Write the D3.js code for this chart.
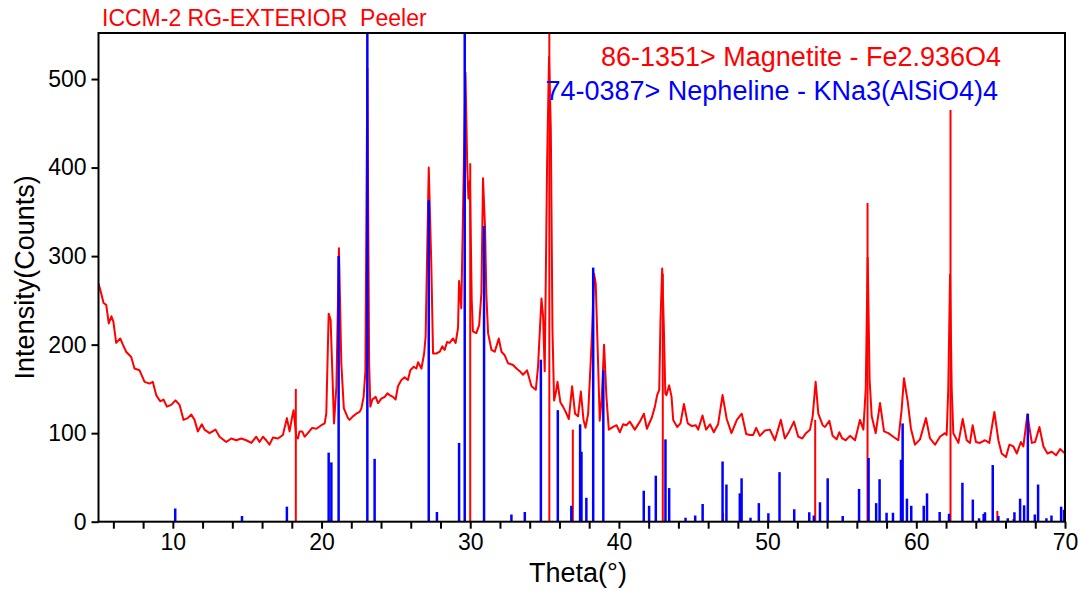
<!DOCTYPE html>
<html>
<head>
<meta charset="utf-8">
<script src="https://cdn.jsdelivr.net/npm/d3@7"></script>
<style>
body { margin: 0; background: #fff; }
svg { font-family: "Liberation Sans", Arial, sans-serif; }
</style>
</head>
<body>
<div id="canvas"></div>
<script>
// measured pattern (2-theta, counts)
var theta = [5.0,5.18,5.34,5.52,5.69,5.87,6.0,6.19,6.46,6.64,6.86,7.2,7.42,7.76,8.1,8.43,8.65,8.88,9.15,9.37,9.6,9.89,10.18,10.45,10.72,11.0,11.24,11.46,11.68,11.95,12.13,12.47,12.87,13.14,13.59,13.93,14.27,14.6,14.94,15.28,15.61,15.83,16.06,16.28,16.5,16.73,17.07,17.4,17.67,17.85,18.03,18.12,18.3,18.41,18.52,18.7,18.86,19.08,19.37,19.65,19.99,20.21,20.32,20.48,20.61,20.84,21.0,21.17,21.33,21.5,21.78,21.89,22.11,22.34,22.56,22.68,22.83,22.95,23.08,23.2,23.28,23.42,23.64,23.8,24.02,24.25,24.43,24.58,24.8,24.98,25.14,25.37,25.59,25.81,25.97,26.2,26.38,26.49,26.72,26.9,27.0,27.21,27.38,27.5,27.72,27.95,28.12,28.28,28.44,28.62,28.84,29.02,29.18,29.25,29.4,29.68,29.8,29.88,29.98,30.1,30.18,30.41,30.6,30.75,30.86,31.0,31.08,31.2,31.43,31.65,31.92,32.1,32.32,32.54,32.88,33.11,33.33,33.55,33.82,34.12,34.41,34.56,34.79,34.9,35.01,35.17,35.3,35.42,35.53,35.64,35.75,35.87,36.06,36.24,36.42,36.63,36.85,37.05,37.25,37.44,37.62,37.75,37.93,38.1,38.2,38.33,38.44,38.58,38.71,38.85,39.0,39.16,39.32,39.61,39.84,40.06,40.28,40.5,40.73,41.07,41.41,41.68,41.88,42.22,42.42,42.57,42.71,42.8,42.91,43.02,43.12,43.2,43.38,43.54,43.65,43.92,44.14,44.37,44.63,44.9,45.17,45.33,45.62,45.86,46.13,46.38,46.67,46.97,47.25,47.57,47.93,48.26,48.56,48.81,49.03,49.23,49.48,49.82,50.15,50.49,50.89,51.16,51.45,51.77,52.06,52.33,52.58,52.85,53.03,53.23,53.41,53.7,53.86,54.15,54.37,54.64,54.82,55.02,55.25,55.54,55.88,56.21,56.44,56.6,56.73,56.86,57.0,57.27,57.56,57.83,58.12,58.45,58.79,59.01,59.17,59.42,59.64,59.91,60.25,60.65,60.92,61.26,61.59,61.93,62.04,62.15,62.27,62.38,62.49,62.83,63.12,63.39,63.61,63.79,64.01,64.28,64.62,64.91,65.25,65.52,65.74,66.03,66.26,66.53,66.76,67.03,67.2,67.47,67.77,67.99,68.28,68.55,68.82,69.11,69.4,69.67,70.0];
var counts = [269,258,247,245,224,232,226,202,207,200,192,186,173,171,158,156,158,143,136,138,130,132,137,132,115,117,121,115,102,110,104,100,104,96,90,94,92,94,92,89,96,90,96,92,87,95,94,98,117,102,119,126,96,94,102,102,96,100,106,105,109,111,122,235,228,111,153,309,179,128,117,115,119,122,124,128,141,170,512,180,130,138,141,134,139,141,145,143,141,138,153,160,163,160,171,175,173,180,173,190,209,400,292,190,190,192,198,194,203,202,207,202,219,272,241,507,400,365,385,250,215,213,222,258,388,330,258,213,194,192,207,192,188,179,177,173,170,166,171,153,149,175,252,232,170,405,525,443,217,137,145,158,135,130,124,116,153,122,119,147,115,106,122,180,217,280,269,190,114,141,200,141,104,107,109,101,110,109,113,104,113,122,105,118,130,143,149,230,286,220,145,143,154,141,115,107,111,133,111,108,109,104,120,104,110,101,110,143,116,100,115,122,99,98,98,106,97,103,104,92,115,94,102,113,96,94,100,104,119,158,122,109,107,114,97,93,101,94,92,97,92,115,104,150,298,160,119,100,134,102,100,96,92,126,162,136,105,87,93,117,94,87,96,100,98,150,279,150,100,89,116,92,89,109,90,89,92,89,124,92,77,73,87,85,77,90,85,121,89,90,107,85,77,79,75,82,77];

// 86-1351 Magnetite reference lines
var magPos = [18.27,30.0,35.32,36.9,42.95,47.0,53.2,56.72,62.3,65.45,66.53];
var magInt = [150,405,600,104,280,10,115,360,465,12,3];

// 74-0387 Nepheline reference lines
var nepPos = [10.16,14.65,17.67,20.48,20.66,21.15,23.08,23.57,27.21,27.76,29.25,29.63,30.93,32.77,33.67,34.75,35.89,36.8,37.39,37.48,37.81,38.27,38.95,41.67,42.03,42.48,43.13,43.38,44.48,45.13,45.63,46.97,47.23,48.13,48.25,48.85,49.41,50.05,50.8,51.79,52.8,53.11,53.52,54.04,55.05,56.15,56.79,57.3,57.53,58.0,58.43,58.97,59.08,59.37,59.66,60.5,60.72,61.57,62.2,63.1,63.8,64.22,64.53,64.62,65.14,65.52,66.15,66.6,66.98,67.25,67.5,67.97,68.19,68.75,69.09,69.74,69.94];
var nepInt = [15,6.5,17,78,67,300,600,71,363,11,89,600,334,8,11,183,126,18,110,79,27,287,171,35,18,52,93,38,4.5,7,20,68,42,32,49,4.5,21,9.5,56,14,10.6,7,22,49,6.5,37,72,21,48,10,10,70,111,26,18,18,32,11,9,44,25,4,8.7,10.6,64,6.5,4,10.6,26,18.5,122,8,42,4,7,17,13.5];

var xTicks = [6,8,10,12,14,16,18,20,22,24,26,28,30,32,34,36,38,40,42,44,46,48,50,52,54,56,58,60,62,64,66,68,70];
var yTicks = [0,100,200,300,400,500];

var w = 1085, h = 593;
var pL = 98.5, pR = 1065, pT = 33, pB = 521.7;

var paper = d3.select("#canvas")
	.append("svg")
	.attr("width", w)
	.attr("height", h);

var x = d3.scaleLinear().domain([5, 70]).range([pL, pR]);
var y = d3.scaleLinear().domain([0, 552]).range([pB, pT]);

paper.append("clipPath")
	.attr("id", "plot")
	.append("rect")
	.attr("x", pL)
	.attr("y", pT)
	.attr("width", pR - pL)
	.attr("height", pB - pT);

var plot = paper.append("g").attr("clip-path", "url(#plot)");

//measured curve
var pts = theta.map(function(t, i) { return [t, counts[i]]; });
plot.append("path")
	.datum(pts)
	.attr("d", d3.line().x(function(d) { return x(d[0]); }).y(function(d) { return y(d[1]); }))
	.style("fill", "none")
	.style("stroke", "#ff0000")
	.style("stroke-width", "2px")
	.style("stroke-linejoin", "round");

//reference sticks
plot.selectAll("line.mag")
	.data(magPos)
	.enter()
	.append("line")
	.attr("class", "mag")
	.attr("x1", function(d) { return x(d); })
	.attr("x2", function(d) { return x(d); })
	.attr("y1", y(0))
	.attr("y2", function(d, i) { return y(magInt[i]); })
	.style("stroke", "#ff0000")
	.style("stroke-width", "2px");

plot.selectAll("line.nep")
	.data(nepPos)
	.enter()
	.append("line")
	.attr("class", "nep")
	.attr("x1", function(d) { return x(d); })
	.attr("x2", function(d) { return x(d); })
	.attr("y1", y(0))
	.attr("y2", function(d, i) { return y(nepInt[i]); })
	.style("stroke", "#0000ff")
	.style("stroke-width", "2.5px");

//axes
var xAxis = paper.append("g")
	.attr("transform", "translate(0," + pB + ")")
	.call(d3.axisBottom(x).tickValues(xTicks).tickSize(7).tickSizeOuter(0)
		.tickFormat(function(d) { return d % 10 === 0 ? d : ""; }));
xAxis.select(".domain").remove();
xAxis.selectAll("line").style("stroke", "#000").style("stroke-width", "2px");
xAxis.selectAll("text")
	.attr("y", 12)
	.style("font-size", "23px")
	.style("font-family", "Liberation Sans, Arial, sans-serif")
	.style("fill", "#000");

var yAxis = paper.append("g")
	.attr("transform", "translate(" + pL + ",0)")
	.call(d3.axisLeft(y).tickValues(yTicks).tickSize(7).tickSizeOuter(0));
yAxis.select(".domain").remove();
yAxis.selectAll("line").style("stroke", "#000").style("stroke-width", "2px");
yAxis.selectAll("text")
	.attr("x", -12)
	.style("font-size", "23px")
	.style("font-family", "Liberation Sans, Arial, sans-serif")
	.style("fill", "#000");

//frame
paper.append("rect")
	.attr("x", pL)
	.attr("y", pT)
	.attr("width", pR - pL)
	.attr("height", pB - pT)
	.style("fill", "none")
	.style("stroke", "#000")
	.style("stroke-width", "2px");

//titles
paper.append("text")
	.attr("x", 578)
	.attr("y", 582)
	.attr("text-anchor", "middle")
	.style("font-size", "27px")
	.text("Theta(°)");

paper.append("text")
	.attr("transform", "translate(34," + ((pT + pB) / 2) + ") rotate(-90)")
	.attr("text-anchor", "middle")
	.style("font-size", "27px")
	.text("Intensity(Counts)");

paper.append("text")
	.attr("x", 102)
	.attr("y", 26)
	.style("font-size", "23px")
	.style("fill", "#ff0000")
	.style("white-space", "pre")
	.text("ICCM-2 RG-EXTERIOR  Peeler");

paper.append("text")
	.attr("x", 1001)
	.attr("y", 66)
	.attr("text-anchor", "end")
	.style("font-size", "27px")
	.style("fill", "#ff0000")
	.text("86-1351> Magnetite - Fe2.936O4");

paper.append("text")
	.attr("x", 998)
	.attr("y", 100)
	.attr("text-anchor", "end")
	.style("font-size", "27px")
	.style("fill", "#0000ff")
	.text("74-0387> Nepheline - KNa3(AlSiO4)4");
</script>
</body>
</html>
